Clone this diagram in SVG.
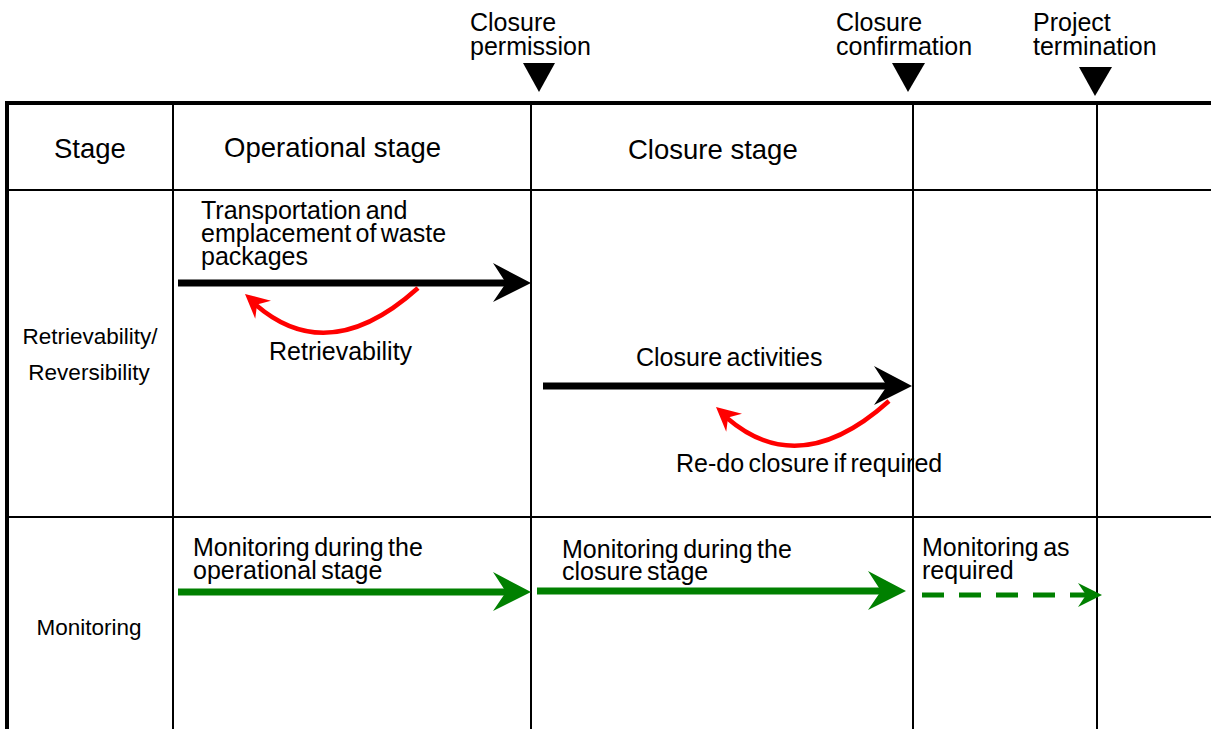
<svg xmlns="http://www.w3.org/2000/svg" xmlns:xlink="http://www.w3.org/1999/xlink" width="1211" height="729" viewBox="0 0 1211 729">
  <style>
    text { font-family: "Liberation Sans", Arial, sans-serif; fill: #000; }
    .milestone { font-size: 25px; word-spacing: -2px; }
    .head { font-size: 27.5px; }
    .body { font-size: 25px; word-spacing: -2.5px; }
    .row { font-size: 22.5px; text-anchor: middle; }
    .frame { stroke: #000; stroke-width: 4; fill: none; }
    .grid { stroke: #000; stroke-width: 2; fill: none; }
    .flow { stroke-width: 7; fill: none; }
    .back { stroke: #ff0000; stroke-width: 4.5; fill: none; }
    .dash { stroke: #008000; stroke-width: 5; stroke-dasharray: 22 15; fill: none; }
  </style>
  <defs>
    <!-- notched arrowheads, tip at the origin, pointing along +x -->
    <path id="headLarge" d="M0,0 L-38,-20 L-25,0 L-38,19 Z"/>
    <path id="headSmall" d="M0,0 L-24,-12 L-16,0 L-24,12 Z"/>
  </defs>

  <rect width="1211" height="729" fill="#fff"/>

  <!-- table frame and grid -->
  <g id="table">
    <line class="frame" x1="7" y1="103" x2="1211" y2="103"/>
    <line class="frame" x1="7" y1="101" x2="7" y2="729"/>
    <line class="grid" x1="173" y1="103" x2="173" y2="729"/>
    <line class="grid" x1="531" y1="103" x2="531" y2="729"/>
    <line class="grid" x1="913" y1="103" x2="913" y2="729"/>
    <line class="grid" x1="1097" y1="103" x2="1097" y2="729"/>
    <line class="grid" x1="7" y1="190" x2="1211" y2="190"/>
    <line class="grid" x1="7" y1="517" x2="1211" y2="517"/>
  </g>

  <!-- milestones -->
  <g id="milestone-permission">
    <text class="milestone" x="470" y="31">Closure</text>
    <text class="milestone" x="470" y="55">permission</text>
    <polygon points="523,63 555,63 539,92" fill="#000"/>
  </g>
  <g id="milestone-confirmation">
    <text class="milestone" x="836" y="31">Closure</text>
    <text class="milestone" x="836" y="55">confirmation</text>
    <polygon points="892,63 925,63 908,92" fill="#000"/>
  </g>
  <g id="milestone-termination">
    <text class="milestone" x="1033" y="31">Project</text>
    <text class="milestone" x="1033" y="55">termination</text>
    <polygon points="1079,67 1112,67 1095,96" fill="#000"/>
  </g>

  <!-- header row -->
  <g id="header-stage"><text class="head" x="54" y="158">Stage</text></g>
  <g id="header-operational"><text class="head" x="224" y="157">Operational stage</text></g>
  <g id="header-closure"><text class="head" x="628" y="159">Closure stage</text></g>

  <!-- row labels -->
  <g id="row-retrievability">
    <text class="row" x="90" y="344">Retrievability/</text>
    <text class="row" x="89" y="380">Reversibility</text>
  </g>
  <g id="row-monitoring">
    <text class="row" x="89" y="635">Monitoring</text>
  </g>

  <!-- activity labels -->
  <g id="label-emplacement">
    <text class="body" x="201" y="219">Transportation and</text>
    <text class="body" x="201" y="242">emplacement of waste</text>
    <text class="body" x="201" y="265">packages</text>
  </g>
  <g id="label-retrievability"><text class="body" x="269" y="360">Retrievability</text></g>
  <g id="label-closure-activities"><text class="body" x="636" y="366">Closure activities</text></g>
  <g id="label-redo"><text class="body" x="676" y="472">Re-do closure if required</text></g>
  <g id="label-monitoring-operational">
    <text class="body" x="193" y="556">Monitoring during the</text>
    <text class="body" x="193" y="579">operational stage</text>
  </g>
  <g id="label-monitoring-closure">
    <text class="body" x="562" y="558">Monitoring during the</text>
    <text class="body" x="562" y="580">closure stage</text>
  </g>
  <g id="label-monitoring-required">
    <text class="body" x="922" y="556">Monitoring as</text>
    <text class="body" x="922" y="579">required</text>
  </g>

  <!-- connectors -->
  <g id="connectors">
    <!-- emplacement of waste packages -->
    <line class="flow" stroke="#000" x1="178" y1="283" x2="508" y2="283"/>
    <use xlink:href="#headLarge" href="#headLarge" transform="translate(531,283)" fill="#000"/>
    <!-- retrieval loop -->
    <path class="back" d="M418,288 Q329,368 256,305"/>
    <use xlink:href="#headSmall" href="#headSmall" transform="translate(245,294) rotate(-139)" fill="#ff0000"/>

    <!-- closure activities -->
    <line class="flow" stroke="#000" x1="543" y1="386" x2="888" y2="386"/>
    <use xlink:href="#headLarge" href="#headLarge" transform="translate(912,386)" fill="#000"/>
    <!-- re-do loop -->
    <path class="back" d="M889,401 Q800,481 727,418"/>
    <use xlink:href="#headSmall" href="#headSmall" transform="translate(716,407) rotate(-139)" fill="#ff0000"/>

    <!-- monitoring -->
    <line class="flow" stroke="#008000" x1="178" y1="592" x2="508" y2="592"/>
    <use xlink:href="#headLarge" href="#headLarge" transform="translate(531,592)" fill="#008000"/>
    <line class="flow" stroke="#008000" x1="537" y1="591" x2="883" y2="591"/>
    <use xlink:href="#headLarge" href="#headLarge" transform="translate(906,591)" fill="#008000"/>
    <line class="dash" x1="922" y1="595" x2="1088" y2="595"/>
    <use xlink:href="#headSmall" href="#headSmall" transform="translate(1102,595)" fill="#008000"/>
  </g>
</svg>
